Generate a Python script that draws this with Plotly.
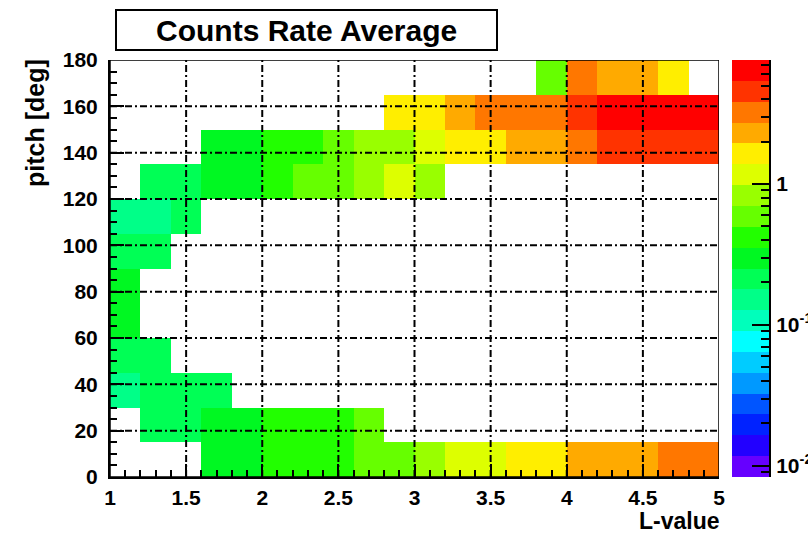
import numpy as np
import plotly.graph_objects as go

# Bin edges
L_edges = [1.0, 1.2, 1.4, 1.6, 1.8, 2.0, 2.2, 2.4, 2.6, 2.8, 3.0,
           3.2, 3.4, 3.6, 3.8, 4.0, 4.2, 4.4, 4.6, 4.8, 5.0]
pitch_edges = [0, 15, 30, 45, 60, 75, 90, 105, 120, 135, 150, 165, 180]

# Average count rate per (pitch, L) bin, one list per pitch row (None = no data)
_ = None
rate_000_015 = [_, _, _, 0.30, 0.31, 0.40, 0.42, 0.43, 0.56, 0.60, 0.84, 1.12, 1.22, 1.55, 1.68, 2.2, 2.3, 2.45, 3.05, 3.3]
rate_015_030 = [_, 0.20, 0.21, 0.29, 0.30, 0.40, 0.41, 0.44, 0.57, _, _, _, _, _, _, _, _, _, _, _]
rate_030_045 = [0.15, 0.20, 0.21, 0.19, _, _, _, _, _, _, _, _, _, _, _, _, _, _, _, _]
rate_045_060 = [0.22, 0.20, _, _, _, _, _, _, _, _, _, _, _, _, _, _, _, _, _, _]
rate_060_075 = [0.28, _, _, _, _, _, _, _, _, _, _, _, _, _, _, _, _, _, _, _]
rate_075_090 = [0.27, _, _, _, _, _, _, _, _, _, _, _, _, _, _, _, _, _, _, _]
rate_090_105 = [0.22, 0.21, _, _, _, _, _, _, _, _, _, _, _, _, _, _, _, _, _, _]
rate_105_120 = [0.15, 0.16, 0.21, _, _, _, _, _, _, _, _, _, _, _, _, _, _, _, _, _]
rate_120_135 = [_, 0.21, 0.22, 0.30, 0.32, 0.39, 0.56, 0.61, 0.80, 1.06, 0.82, _, _, _, _, _, _, _, _, _]
rate_135_150 = [_, _, _, 0.29, 0.31, 0.40, 0.44, 0.60, 0.78, 0.85, 1.10, 1.50, 1.62, 2.1, 2.4, 3.2, 4.3, 4.6, 4.8, 4.5]
rate_150_165 = [_, _, _, _, _, _, _, _, _, 1.55, 1.70, 2.3, 3.0, 3.3, 3.5, 4.6, 6.2, 6.8, 6.9, 6.5]
rate_165_180 = [_, _, _, _, _, _, _, _, _, _, _, _, _, _, 0.62, 3.4, 2.2, 2.4, 1.7, _]

rows = [rate_000_015, rate_015_030, rate_030_045, rate_045_060, rate_060_075, rate_075_090,
        rate_090_105, rate_105_120, rate_120_135, rate_135_150, rate_150_165, rate_165_180]

# Colour palette (low -> high), 20 contour levels on a log scale
palette = ["#6600ff", "#2200ff", "#0022ff", "#0055ff", "#0099ff", "#00ccff", "#00ffff",
           "#00ffbb", "#00ff88", "#00ff55", "#00f822", "#22ff00", "#66ff00", "#99ff00",
           "#ddff00", "#ffee00", "#ffaa00", "#ff7700", "#ff3300", "#ff0000"]
log_min, log_max = -2.08, 0.88

# Axis ticks
L_ticks = [1, 1.5, 2, 2.5, 3, 3.5, 4, 4.5, 5]
pitch_ticks = [0, 20, 40, 60, 80, 100, 120, 140, 160, 180]
z_tick_vals = [-2, -1, 0]
z_tick_text = ["10<sup>-2</sup>", "10<sup>-1</sup>", "1"]

n = len(palette)
colorscale = []
for k, c in enumerate(palette):
    colorscale.append([k / n, c])
    colorscale.append([(k + 1) / n, c])

z = [[None if v is None else float(np.log10(v)) for v in row] for row in rows]

W, H = 808, 533
ml, mr, mt, mb = 110, 39, 60, 56
inner_w = W - ml - mr
main_end = 609 / inner_w
bar_start = 622 / inner_w
inner_h = H - mt - mb

font_family = "Liberation Sans, Arial, sans-serif"
tick_font = dict(family=font_family, size=21, color="black", weight="bold")

fig = go.Figure()
fig.add_trace(go.Heatmap(
    x=L_edges, y=pitch_edges, z=z,
    colorscale=colorscale, zmin=log_min, zmax=log_max,
    showscale=False, hoverongaps=False,
    customdata=[[v for v in row] for row in rows],
    hovertemplate="L=%{x}<br>pitch=%{y}<br>rate=%{customdata}<extra></extra>",
))

# Palette bar drawn as its own heatmap on a secondary axis
bar_edges = np.linspace(log_min, log_max, n + 1)
bar_mid = [[(bar_edges[k] + bar_edges[k + 1]) / 2] for k in range(n)]
fig.add_trace(go.Heatmap(
    x=[0, 1], y=bar_edges.tolist(), z=bar_mid,
    colorscale=colorscale, zmin=log_min, zmax=log_max,
    showscale=False, xaxis="x2", yaxis="y2", hoverinfo="skip",
))

minor_z = []
for dec in (-3, -2, -1, 0):
    for m in range(2, 10):
        v = np.log10(m) + dec
        if log_min <= v <= log_max:
            minor_z.append(float(v))

axis_common = dict(
    ticks="inside", tickwidth=2, tickcolor="black",
    showline=True, linewidth=2, linecolor="black",
    showgrid=False, zeroline=False, mirror=False,
    tickfont=tick_font, layer="above traces",
)

fig.update_layout(
    width=W, height=H,
    margin=dict(l=ml, r=mr, t=mt, b=mb, autoexpand=False),
    paper_bgcolor="white", plot_bgcolor="white",
    showlegend=False,
    xaxis=dict(domain=[0, main_end], range=[1, 5], tickmode="array", tickvals=L_ticks,
               ticklen=13, ticklabelstandoff=1,
               minor=dict(dtick=0.1, tick0=1, ticks="inside", ticklen=7,
                          tickwidth=2, tickcolor="black", showgrid=False),
               anchor="y", **axis_common),
    yaxis=dict(domain=[0, 1], range=[0, 180], tickmode="array", tickvals=pitch_ticks,
               ticklen=14, ticklabelstandoff=6,
               minor=dict(dtick=5, tick0=0, ticks="inside", ticklen=7,
                          tickwidth=2, tickcolor="black", showgrid=False),
               anchor="x", **axis_common),
    xaxis2=dict(domain=[bar_start, 1], range=[0, 1], visible=False, anchor="y2"),
    yaxis2=dict(domain=[0, 1], range=[log_min, log_max], anchor="x2", side="right",
                tickmode="array", tickvals=z_tick_vals, ticktext=z_tick_text, ticklen=17,
                ticklabelstandoff=1,
                minor=dict(tickmode="array", tickvals=minor_z, ticks="inside", ticklen=8,
                           tickwidth=2, tickcolor="black"),
                **axis_common),
)

# Dashed grid drawn over the cells, plus the thin frame on top/right
grid_line = dict(color="black", width=2, dash="7px,3px,2px,3px")
for v in L_ticks[1:-1]:
    fig.add_shape(type="line", xref="x", yref="y", x0=v, x1=v, y0=0, y1=180,
                  line=grid_line, layer="above")
for v in pitch_ticks[1:-1]:
    fig.add_shape(type="line", xref="x", yref="y", x0=1, x1=5, y0=v, y1=v,
                  line=grid_line, layer="above")
fig.add_shape(type="rect", xref="x", yref="y", x0=1, x1=5, y0=0, y1=180,
              line=dict(color="black", width=1.5), layer="above")

# Title box
def px_x(p):
    return (p - ml) / inner_w

def px_y(p):
    return (H - mb - p) / inner_h

fig.add_shape(type="rect", xref="paper", yref="paper",
              x0=px_x(116), x1=px_x(497), y0=px_y(50), y1=px_y(10),
              line=dict(color="black", width=2), fillcolor="white")
fig.add_annotation(text="Counts Rate Average", xref="paper", yref="paper",
                   x=px_x(306.5), y=px_y(30), showarrow=False,
                   font=dict(family=font_family, size=30, color="black", weight="bold"),
                   xanchor="center", yanchor="middle")

# Axis titles
fig.add_annotation(text="L-value", xref="paper", yref="paper",
                   x=px_x(721), y=px_y(535), xanchor="right", yanchor="bottom",
                   showarrow=False, borderpad=0,
                   font=dict(family=font_family, size=23, color="black", weight="bold"))
fig.add_annotation(text="pitch [deg]", xref="paper", yref="paper",
                   x=px_x(35), y=px_y(57), xanchor="center", yanchor="top",
                   textangle=-90, showarrow=False,
                   font=dict(family=font_family, size=25, color="black", weight="bold"))

fig.write_html("out.html")
